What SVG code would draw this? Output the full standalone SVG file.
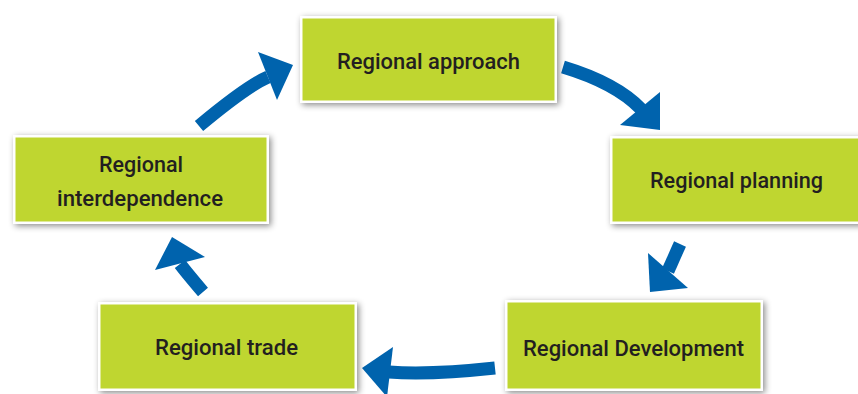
<svg xmlns="http://www.w3.org/2000/svg" width="858" height="394" viewBox="0 0 858 394">
  <style>
    .frame { fill: #ffffff; filter: url(#shadow); }
    .fill { fill: #bfd630; }
    .label { font-family: Roboto, "Liberation Sans", sans-serif; font-weight: 500; font-size: 22px; fill: #231f20; }
    .shaft { fill: none; stroke: #0063ad; stroke-width: 13; stroke-linecap: butt; }
    .head { fill: #0063ad; }
  </style>
  <defs>
    <filter id="shadow" x="-10%" y="-20%" width="120%" height="140%">
      <feDropShadow dx="2" dy="2" stdDeviation="3" flood-color="#000000" flood-opacity="0.45"/>
    </filter>
  </defs>
  <rect width="858" height="394" fill="#ffffff"/>

  <!-- cycle connectors -->
  <g id="connectors">
    <!-- approach -> planning -->
    <path class="shaft" d="M563,67 Q616,83 641,109"/>
    <polygon class="head" points="660,92 620,125 660,130"/>
    <!-- planning -> development -->
    <path class="shaft" d="M680,244 Q672,262 668,271"/>
    <polygon class="head" points="648,253 650,292 688,288"/>
    <!-- development -> trade -->
    <path class="shaft" d="M495,368 Q430,375 389,372"/>
    <polygon class="head" points="393,347 362,368 387,397"/>
    <!-- trade -> interdependence -->
    <path class="shaft" d="M203,292 Q186,272 180,264"/>
    <polygon class="head" points="172,237 155,270 205,257"/>
    <!-- interdependence -> approach -->
    <path class="shaft" d="M199,126 Q247,86 268,77"/>
    <polygon class="head" points="258,52 293,65 277,100"/>
  </g>

  <g id="approach">
    <rect class="frame" x="300" y="16" width="257" height="87"/>
    <rect class="fill" x="302.5" y="18.5" width="252" height="82"/>
    <text class="label" x="337" y="69" textLength="183" lengthAdjust="spacingAndGlyphs">Regional approach</text>
  </g>

  <g id="planning">
    <rect class="frame" x="610" y="136" width="253" height="88"/>
    <rect class="fill" x="612.5" y="138.5" width="248" height="83"/>
    <text class="label" x="650" y="188" textLength="173" lengthAdjust="spacingAndGlyphs">Regional planning</text>
  </g>

  <g id="interdependence">
    <rect class="frame" x="13" y="135" width="256" height="89"/>
    <rect class="fill" x="15.5" y="137.5" width="251" height="84"/>
    <text class="label" x="99" y="172" textLength="84" lengthAdjust="spacingAndGlyphs">Regional</text>
    <text class="label" x="57" y="206" textLength="166" lengthAdjust="spacingAndGlyphs">interdependence</text>
  </g>

  <g id="trade">
    <rect class="frame" x="98" y="302" width="259" height="89"/>
    <rect class="fill" x="100.5" y="304.5" width="254" height="84"/>
    <text class="label" x="155" y="355" textLength="143" lengthAdjust="spacingAndGlyphs">Regional trade</text>
  </g>

  <g id="development">
    <rect class="frame" x="505" y="300" width="258" height="91"/>
    <rect class="fill" x="507.5" y="302.5" width="253" height="86"/>
    <text class="label" x="523" y="356" textLength="221" lengthAdjust="spacingAndGlyphs">Regional Development</text>
  </g>
</svg>
